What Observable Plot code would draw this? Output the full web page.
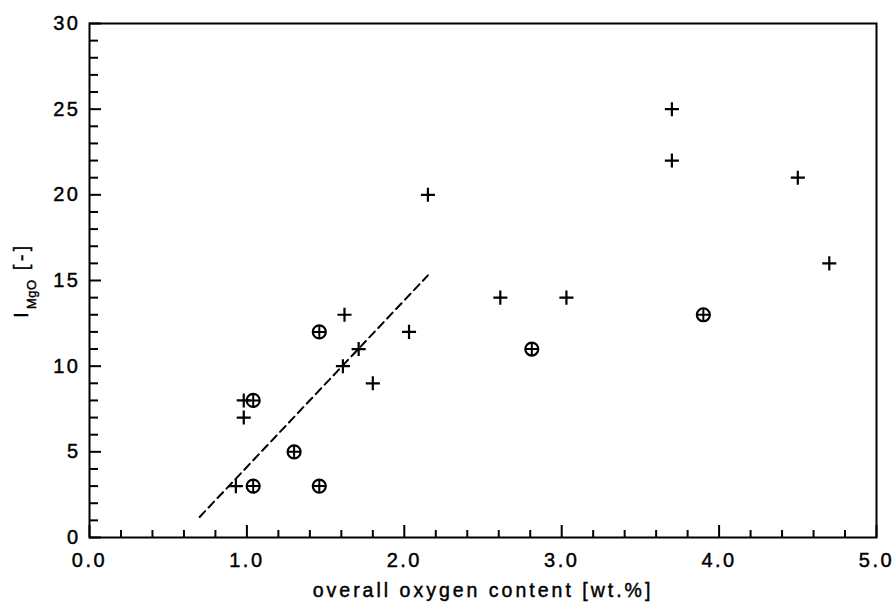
<!DOCTYPE html>
<html>
<head>
<meta charset="utf-8">
<script src="https://cdn.jsdelivr.net/npm/d3@7"></script>
<script src="https://cdn.jsdelivr.net/npm/@observablehq/plot@0.6"></script>
<style>
  html, body { margin: 0; padding: 0; background: #fff; }
  svg text { stroke: #000; stroke-width: 0.45px; }
</style>
</head>
<body>
<div id="chart"></div>
<script>
// Data
const plusX = [0.93, 0.98, 0.98, 1.61, 1.62, 1.71, 1.80, 2.03, 2.15, 2.61, 3.03, 3.70, 3.70, 4.50, 4.70];
const plusY = [3, 7, 8, 10, 13, 11, 9, 12, 20, 14, 14, 25, 22, 21, 16];
const circX = [1.04, 1.04, 1.30, 1.46, 1.46, 2.81, 3.90];
const circY = [8, 3, 5, 12, 3, 11, 13];
const fitX = [0.70, 2.15];
const fitY = [1.2, 15.3];

const xMajor = [0, 1, 2, 3, 4, 5];
const xMinor = [0.2, 0.4, 0.6, 0.8, 1.2, 1.4, 1.6, 1.8, 2.2, 2.4, 2.6, 2.8, 3.2, 3.4, 3.6, 3.8, 4.2, 4.4, 4.6, 4.8];
const yMajor = [0, 5, 10, 15, 20, 25, 30];
const yMinor = [1, 2, 3, 4, 6, 7, 8, 9, 11, 12, 13, 14, 16, 17, 18, 19, 21, 22, 23, 24, 26, 27, 28, 29];

const xLabel = "overall oxygen content [wt.%]";

const plusData = plusX.map((x, i) => ({x, y: plusY[i]}));
const circData = circX.map((x, i) => ({x, y: circY[i]}));
const fitData = fitX.map((x, i) => ({x, y: fitY[i]}));

const W = 896, H = 613;
const mL = 89, mR = 20, mT = 23, mB = 76;
const innerW = W - mL - mR, innerH = H - mT - mB;

const chart = Plot.plot({
  width: W,
  height: H,
  marginLeft: mL,
  marginRight: mR,
  marginTop: mT,
  marginBottom: mB,
  style: {fontFamily: "'Liberation Sans', Arial, sans-serif", fontSize: "20px", letterSpacing: "2.5px", color: "#000", background: "#fff"},
  x: {domain: [0, 5]},
  y: {domain: [0, 30]},
  marks: [
    Plot.axisX(xMajor, {tickSize: 0, tickPadding: 15, tickFormat: d3.format(".1f"), label: null, fontSize: 20}),
    Plot.axisY(yMajor, {tickSize: 0, tickPadding: 9, tickFormat: d3.format("d"), label: null, fontSize: 20}),
    Plot.tickX(xMinor, {x: d => d, insetTop: innerH - 7, stroke: "#000", strokeWidth: 2}),
    Plot.tickX(xMajor, {x: d => d, insetTop: innerH - 12, stroke: "#000", strokeWidth: 2}),
    Plot.tickY(yMinor, {y: d => d, insetRight: innerW - 9, stroke: "#000", strokeWidth: 2}),
    Plot.tickY(yMajor, {y: d => d, insetRight: innerW - 12, stroke: "#000", strokeWidth: 2}),
    Plot.frame({stroke: "#000", strokeWidth: 2}),
    Plot.line(fitData, {x: "x", y: "y", stroke: "#000", strokeWidth: 2, strokeDasharray: "8,5"}),
    Plot.dot(plusData, {x: "x", y: "y", symbol: "plus", r: 4.6, stroke: "#000", strokeWidth: 2.2}),
    Plot.dot(circData, {x: "x", y: "y", symbol: "circle", r: 6.5, stroke: "#000", strokeWidth: 2.2, fill: "none"}),
    Plot.dot(circData, {x: "x", y: "y", symbol: "plus", r: 4.25, stroke: "#000", strokeWidth: 2}),
    Plot.text([xLabel], {text: d => d, frameAnchor: "bottom", dy: 59, fontSize: 19.5, letterSpacing: "3px"})
  ]
});

// y-axis title with subscript (I_MgO [-])
const svg = d3.select(chart);
svg.selectAll("text").filter(function () { return this.textContent === xLabel; })
  .style("letter-spacing", "3px");
const yt = svg.append("text")
  .attr("transform", `translate(28, ${mT + innerH / 2}) rotate(-90)`)
  .attr("text-anchor", "middle")
  .attr("fill", "#000")
  .style("letter-spacing", "3px");
yt.append("tspan").attr("font-size", 21).text("I");
yt.append("tspan").attr("font-size", 13).attr("dy", 8).style("letter-spacing", "0.5px").text("MgO");
yt.append("tspan").attr("font-size", 20).attr("dy", -8).style("letter-spacing", "3.5px").text(" [-]");

document.getElementById("chart").appendChild(chart);
</script>
</body>
</html>
